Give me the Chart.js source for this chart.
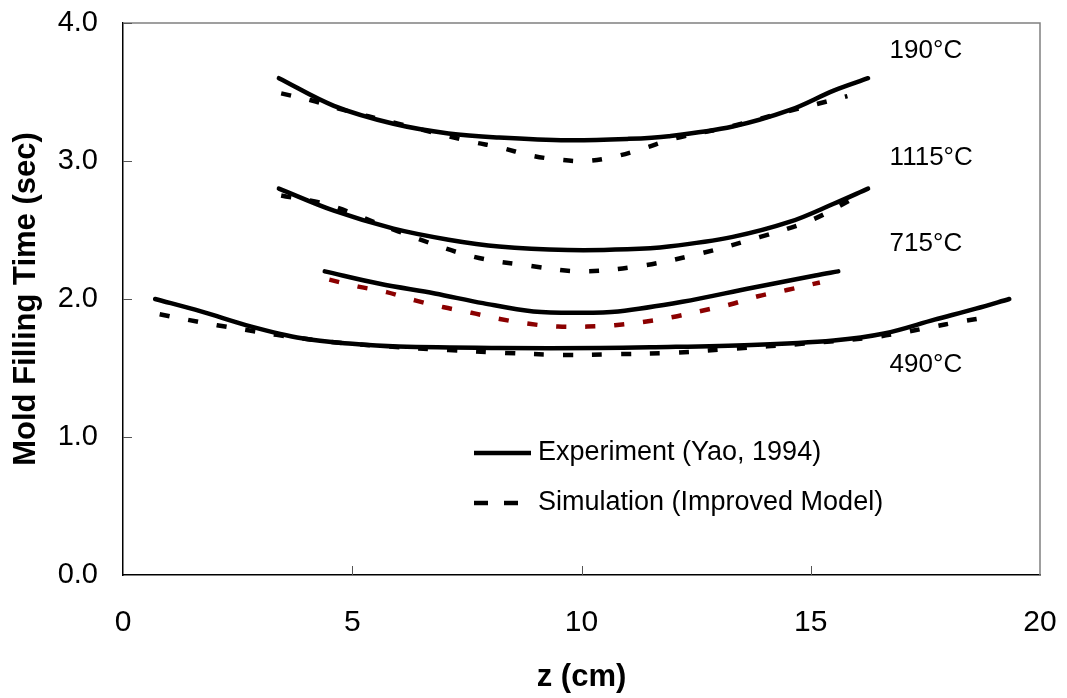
<!DOCTYPE html>
<html>
<head>
<meta charset="utf-8">
<script src="https://cdn.jsdelivr.net/npm/chart.js@4.4.1/dist/chart.umd.min.js"></script>
<style>
  html, body { margin: 0; padding: 0; background: #ffffff; }
  #wrap { width: 1067px; height: 698px; position: relative; }
</style>
</head>
<body>
<div id="wrap"><canvas id="chart"></canvas></div>
<script>
// Mold filling time along the cavity, z (cm) vs time (sec)
const xTicks = [0, 5, 10, 15, 20];
const yTicks = [0.0, 1.0, 2.0, 3.0, 4.0];

// 190°C
const exp190Z = [3.4, 4.6, 5.9, 7.1, 8.2, 9.7, 11.0, 11.9, 13.3, 14.55, 15.5, 16.25];
const exp190T = [3.60, 3.40, 3.27, 3.20, 3.17, 3.15, 3.16, 3.18, 3.25, 3.37, 3.51, 3.60];
const sim190Z = [3.45, 4.1, 4.7, 6.0, 7.6, 8.2, 8.9, 9.5, 10.1, 10.7, 11.35, 12.0, 13.25, 14.5, 15.1, 15.8];
const sim190T = [3.49, 3.44, 3.38, 3.27, 3.14, 3.10, 3.04, 3.01, 3.00, 3.03, 3.09, 3.16, 3.25, 3.36, 3.41, 3.47];

// 1115°C
const exp1115Z = [3.4, 4.6, 5.9, 7.1, 8.2, 9.7, 11.0, 11.9, 13.3, 14.55, 15.5, 16.25];
const exp1115T = [2.80, 2.64, 2.51, 2.43, 2.38, 2.355, 2.36, 2.38, 2.45, 2.56, 2.69, 2.80];
const sim1115Z = [3.45, 4.5, 6.0, 7.6, 8.9, 10.0, 11.3, 12.6, 13.9, 15.0, 16.0];
const sim1115T = [2.75, 2.68, 2.49, 2.31, 2.24, 2.20, 2.24, 2.33, 2.45, 2.57, 2.74];

// 715°C
const exp715Z = [4.4, 5.6, 6.8, 7.85, 8.95, 10.0, 10.8, 12.2, 13.7, 15.1, 15.6];
const exp715T = [2.20, 2.11, 2.04, 1.97, 1.91, 1.90, 1.91, 1.98, 2.08, 2.17, 2.20];
const sim715Z = [4.5, 5.13, 5.75, 6.37, 7.0, 7.6, 8.22, 8.86, 9.49, 10.12, 10.73, 11.38, 12.0, 12.63, 13.24, 13.85, 14.48, 15.2];
const sim715T = [2.14, 2.09, 2.05, 1.99, 1.94, 1.90, 1.855, 1.82, 1.80, 1.80, 1.81, 1.835, 1.87, 1.915, 1.96, 2.02, 2.065, 2.12];

// 490°C
const exp490Z = [0.7, 1.7, 2.8, 3.9, 5.0, 6.0, 8.2, 10.4, 11.5, 13.7, 15.5, 16.6, 17.7, 18.6, 19.33];
const exp490T = [2.00, 1.91, 1.80, 1.715, 1.675, 1.655, 1.645, 1.645, 1.65, 1.667, 1.70, 1.75, 1.85, 1.93, 2.00];
const sim490Z = [0.8, 1.4, 2.05, 2.7, 3.35, 4.5, 5.8, 7.1, 8.3, 9.6, 10.75, 12.0, 13.3, 14.8, 16.3, 17.0, 17.6, 18.25, 18.9];
const sim490T = [1.89, 1.85, 1.81, 1.775, 1.74, 1.69, 1.655, 1.63, 1.61, 1.595, 1.60, 1.61, 1.64, 1.675, 1.72, 1.756, 1.795, 1.835, 1.87];

const seriesNames = ['Experiment (Yao, 1994)', 'Simulation (Improved Model)'];
const tempLabels = ['190°C', '1115°C', '715°C', '490°C'];
// anchor of each temperature label, in data units (z, time)
const tempLabelZ = [16.72, 16.72, 16.72, 16.72];
const tempLabelT = [3.80, 3.02, 2.40, 1.52];

const FONT = '"Liberation Sans", Arial, Helvetica, sans-serif';

function pts(zs, ts) { return zs.map((z, i) => ({ x: z, y: ts[i] })); }

function solid(zs, ts) {
  return {
    data: pts(zs, ts), borderColor: '#000000', borderWidth: 4.5,
    pointRadius: 0, tension: 0.35, fill: false, borderCapStyle: 'round'
  };
}
function dashed(zs, ts, color) {
  return {
    data: pts(zs, ts), borderColor: color || '#000000', borderWidth: 4.5,
    borderDash: [10, 19], borderCapStyle: 'butt',
    pointRadius: 0, tension: 0.35, fill: false
  };
}

// frame, inward tick marks, temperature labels and legend
const decor = {
  id: 'decor',
  afterDraw(chart) {
    const { ctx, chartArea: a, scales: { x, y } } = chart;
    ctx.save();
    // top and right frame lines
    ctx.strokeStyle = '#808080';
    ctx.lineWidth = 1.5;
    ctx.beginPath();
    ctx.moveTo(a.left, a.top); ctx.lineTo(a.right, a.top); ctx.lineTo(a.right, a.bottom);
    ctx.stroke();
    // inward tick marks
    ctx.strokeStyle = '#555555';
    ctx.lineWidth = 1;
    yTicks.forEach(v => {
      if (v === 0) return;
      const py = Math.round(y.getPixelForValue(v)) + 0.5;
      ctx.beginPath(); ctx.moveTo(a.left, py); ctx.lineTo(a.left + 9, py); ctx.stroke();
    });
    xTicks.forEach(v => {
      if (v === 0 || v === 20) return;
      const px = Math.round(x.getPixelForValue(v)) + 0.5;
      ctx.beginPath(); ctx.moveTo(px, a.bottom); ctx.lineTo(px, a.bottom - 9); ctx.stroke();
    });
    // temperature labels
    ctx.fillStyle = '#000000';
    ctx.font = '26px ' + FONT;
    ctx.textAlign = 'left';
    ctx.textBaseline = 'middle';
    tempLabels.forEach((t, i) => {
      ctx.fillText(t, x.getPixelForValue(tempLabelZ[i]), y.getPixelForValue(tempLabelT[i]));
    });
    // legend
    const lx = 474, ly1 = 453, ly2 = 503;
    ctx.strokeStyle = '#000000';
    ctx.lineWidth = 4.5;
    ctx.lineCap = 'butt';
    ctx.beginPath(); ctx.moveTo(lx, ly1); ctx.lineTo(lx + 57, ly1); ctx.stroke();
    ctx.beginPath(); ctx.moveTo(lx, ly2); ctx.lineTo(lx + 14, ly2); ctx.stroke();
    ctx.beginPath(); ctx.moveTo(lx + 30, ly2); ctx.lineTo(lx + 44, ly2); ctx.stroke();
    ctx.font = '27px ' + FONT;
    ctx.fillText(seriesNames[0], 538, ly1);
    ctx.fillText(seriesNames[1], 538, ly2);
    ctx.restore();
  }
};

new Chart(document.getElementById('chart'), {
  type: 'line',
  data: {
    datasets: [
      solid(exp190Z, exp190T), dashed(sim190Z, sim190T),
      solid(exp1115Z, exp1115T), dashed(sim1115Z, sim1115T),
      solid(exp715Z, exp715T), dashed(sim715Z, sim715T, '#8b0000'),
      solid(exp490Z, exp490T), dashed(sim490Z, sim490T)
    ]
  },
  options: {
    responsive: true,
    maintainAspectRatio: false,
    animation: false,
    layout: { padding: { top: 23, right: 27, bottom: 0, left: 0 } },
    plugins: { legend: { display: false }, tooltip: { enabled: false } },
    scales: {
      x: {
        type: 'linear', min: 0, max: 20,
        afterBuildTicks: s => { s.ticks = xTicks.map(v => ({ value: v })); },
        afterFit: s => { s.height = 123; },
        grid: { display: true, drawOnChartArea: false, drawTicks: true, tickLength: 30, color: 'rgba(0,0,0,0)' },
        border: { display: true, color: '#000000', width: 1.5 },
        ticks: { color: '#000000', padding: 0, maxRotation: 0, font: { family: FONT, size: 30 } },
        title: { display: true, text: 'z (cm)', color: '#000000', padding: { top: 0, bottom: 2 },
                 font: { family: FONT, size: 31, weight: 'bold' } }
      },
      y: {
        type: 'linear', min: 0, max: 4,
        afterBuildTicks: s => { s.ticks = yTicks.map(v => ({ value: v })); },
        afterFit: s => { s.width = 123; },
        grid: { display: true, drawOnChartArea: false, drawTicks: true, tickLength: 25, color: 'rgba(0,0,0,0)' },
        border: { display: true, color: '#000000', width: 1.5 },
        ticks: { color: '#000000', padding: 0, font: { family: FONT, size: 29 },
                 callback: v => Number(v).toFixed(1) },
        title: { display: true, text: 'Mold Filling Time (sec)', color: '#000000',
                 padding: { top: 8, bottom: 0 },
                 font: { family: FONT, size: 31, weight: 'bold' } }
      }
    }
  },
  plugins: [decor]
});
</script>
</body>
</html>
